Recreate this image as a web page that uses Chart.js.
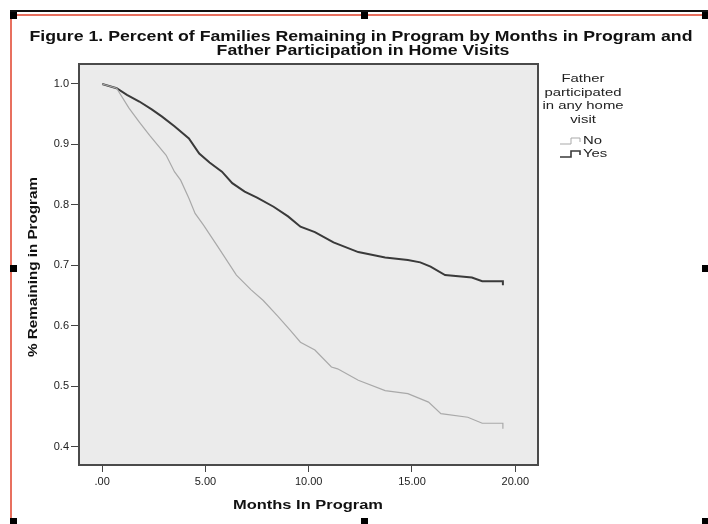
<!DOCTYPE html>
<html>
<head>
<meta charset="utf-8">
<script src="https://cdn.jsdelivr.net/npm/chart.js@4"></script>
<style>
  body { margin: 0; background: #fff; }
  #wrap { width: 708px; height: 524px; }
</style>
</head>
<body>
<div id="wrap"><canvas id="graph" width="708" height="524"></canvas></div>
<script>
// Survival curves (months -> share still in program)
var yesMonths    = [0, 0.7, 1.2, 1.8, 2.4, 2.9, 3.5, 4.2, 4.7, 5.2, 5.8, 6.3, 6.9, 7.5, 8.3, 9.0, 9.6, 10.3, 11.2, 12.4, 13.7, 14.8, 15.4, 15.9, 16.6, 17.9, 18.4, 19.4, 19.4];
var yesRemaining = [1.0, 0.993, 0.982, 0.971, 0.958, 0.946, 0.930, 0.910, 0.885, 0.870, 0.855, 0.836, 0.822, 0.812, 0.797, 0.781, 0.764, 0.755, 0.738, 0.722, 0.713, 0.709, 0.705, 0.698, 0.684, 0.680, 0.674, 0.674, 0.667];

var noMonths    = [0, 0.7, 1.3, 1.8, 2.3, 3.1, 3.5, 3.8, 4.2, 4.5, 4.9, 5.6, 6.5, 7.2, 7.8, 8.5, 9.1, 9.6, 10.3, 11.1, 11.4, 12.4, 13.7, 14.8, 15.8, 16.4, 17.7, 18.4, 19.4, 19.4];
var noRemaining = [1.0, 0.993, 0.960, 0.937, 0.915, 0.882, 0.855, 0.841, 0.811, 0.786, 0.767, 0.731, 0.684, 0.660, 0.642, 0.616, 0.593, 0.573, 0.560, 0.532, 0.529, 0.510, 0.493, 0.488, 0.474, 0.455, 0.449, 0.439, 0.439, 0.430];

var xTicks = [0, 5, 10, 15, 20];
var xTickLabels = ['.00', '5.00', '10.00', '15.00', '20.00'];
var yTicks = [0.4, 0.5, 0.6, 0.7, 0.8, 0.9, 1.0];
var yTickLabels = ['0.4', '0.5', '0.6', '0.7', '0.8', '0.9', '1.0'];

var titleLines = ['Figure 1. Percent of Families Remaining in Program by Months in Program and', 'Father Participation in Home Visits'];
var legendTitle = ['Father', 'participated', 'in any home', 'visit'];

var FONT = "'Liberation Sans', Arial, sans-serif";

function pts(xs, ys) {
  return xs.map(function(x, i) { return { x: x, y: ys[i] }; });
}

// text drawn a bit wider than the font, like the old SPSS output
function wideText(c, text, x, y, stretch, align, rot) {
  c.save();
  c.translate(x, y);
  if (rot) c.rotate(rot);
  c.scale(stretch, 1);
  c.textAlign = align || 'center';
  c.fillText(text, 0, 0);
  c.restore();
}

var decor = {
  id: 'decor',
  beforeDraw: function(chart) {
    var c = chart.ctx, a = chart.chartArea;
    c.save();
    c.fillStyle = '#ebebeb';
    c.fillRect(a.left, a.top, a.right - a.left, a.bottom - a.top);
    c.restore();
  },
  afterDraw: function(chart) {
    var c = chart.ctx, a = chart.chartArea;
    c.save();
    // plot frame
    c.strokeStyle = '#4a4a4a';
    c.lineWidth = 2;
    c.strokeRect(a.left, a.top, a.right - a.left, a.bottom - a.top);

    // title
    c.fillStyle = '#111';
    c.textBaseline = 'middle';
    c.font = 'bold 14px ' + FONT;
    var s = 663 / c.measureText(titleLines[0]).width;
    wideText(c, titleLines[0], 361, 37, s);
    wideText(c, titleLines[1], 363, 51, s);

    // axis titles
    c.font = 'bold 13px ' + FONT;
    wideText(c, 'Months In Program', 308, 505, 150 / c.measureText('Months In Program').width);
    wideText(c, '% Remaining in Program', 33, 267, 180 / c.measureText('% Remaining in Program').width, 'center', -Math.PI / 2);

    // legend
    c.font = '11px ' + FONT;
    c.fillStyle = '#222';
    var ls = 77 / c.measureText('participated').width;
    legendTitle.forEach(function(t, i) { wideText(c, t, 583, 79 + i * 13.5, ls); });
    chart.data.datasets.forEach(function(ds, i) {
      var y = 141 + i * 13;
      c.strokeStyle = ds.borderColor;
      c.lineWidth = ds.borderWidth > 1.5 ? 1.6 : 1;
      c.beginPath();
      c.moveTo(560, y + 3);
      c.lineTo(571, y + 3);
      c.lineTo(571, y - 3);
      c.lineTo(580, y - 3);
      c.lineTo(580, y + 1);
      c.stroke();
      c.fillStyle = '#222';
      wideText(c, ds.label, 583, y, ls, 'left');
    });

    // selection frame of the embedded object
    c.fillStyle = '#111';
    c.fillRect(10, 10, 698, 2);
    c.fillStyle = '#e8705f';
    c.fillRect(10, 14, 694, 2);
    c.fillRect(10, 14, 2, 510);
    c.fillStyle = '#000';
    [[10, 12], [361, 12], [702, 12], [10, 265], [702, 265], [10, 518], [361, 518], [702, 518]].forEach(function(h) {
      c.fillRect(h[0], h[1], 7, 7);
    });
    c.restore();
  }
};

var ctx = document.getElementById('graph');
var myChart = new Chart(ctx, {
  type: 'line',
  data: {
    datasets: [{
      label: 'No',
      data: pts(noMonths, noRemaining),
      borderColor: '#a9a9a9',
      borderWidth: 1.2,
      pointRadius: 0,
      tension: 0,
      fill: false
    }, {
      label: 'Yes',
      data: pts(yesMonths, yesRemaining),
      borderColor: '#3a3a3a',
      borderWidth: 2,
      pointRadius: 0,
      tension: 0,
      fill: false
    }]
  },
  options: {
    responsive: false,
    animation: false,
    events: [],
    layout: { padding: { left: 24, top: 64, right: 170, bottom: 19 } },
    plugins: { legend: { display: false }, title: { display: false }, tooltip: { enabled: false } },
    scales: {
      x: {
        type: 'linear',
        min: -1.12,
        max: 21.1,
        afterFit: function(s) { s.height = 40; },
        afterBuildTicks: function(s) { s.ticks = xTicks.map(function(v) { return { value: v }; }); },
        ticks: {
          padding: 3,
          color: '#222',
          font: { family: FONT, size: 11 },
          callback: function(v) { return xTickLabels[xTicks.indexOf(v)]; }
        },
        grid: { drawOnChartArea: false, drawTicks: true, tickLength: 7, color: '#444' },
        border: { display: false }
      },
      y: {
        min: 0.37,
        max: 1.033,
        afterFit: function(s) { s.width = 55; },
        afterBuildTicks: function(s) { s.ticks = yTicks.map(function(v) { return { value: v }; }); },
        ticks: {
          padding: 2,
          color: '#222',
          font: { family: FONT, size: 11 },
          callback: function(v) { return yTickLabels[yTicks.indexOf(v)]; }
        },
        grid: { drawOnChartArea: false, drawTicks: true, tickLength: 8, color: '#444' },
        border: { display: false }
      }
    }
  },
  plugins: [decor]
});
</script>
</body>
</html>
